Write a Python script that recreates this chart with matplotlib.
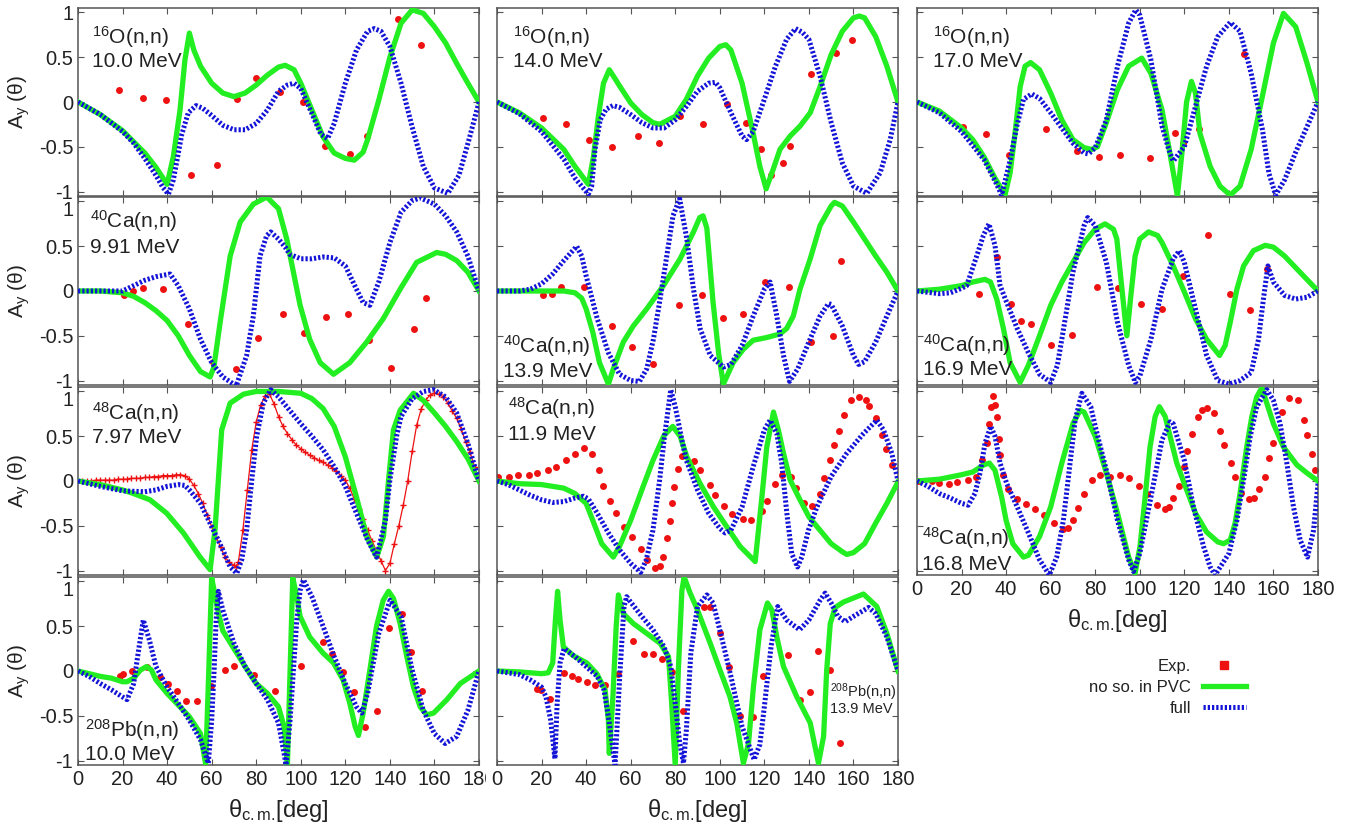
import matplotlib
matplotlib.use('Agg')
import matplotlib.pyplot as plt
from matplotlib.lines import Line2D
from matplotlib.transforms import Bbox, TransformedBbox, IdentityTransform

plt.rcParams['font.family'] = ['Liberation Sans', 'DejaVu Sans']
plt.rcParams['mathtext.fontset'] = 'custom'
plt.rcParams['mathtext.rm'] = 'Liberation Sans'
plt.rcParams['mathtext.it'] = 'Liberation Sans:italic'
plt.rcParams['mathtext.bf'] = 'Liberation Sans:bold'

# ---- datos: (theta_cm [deg], A_y) ----
o16_10_nso = [(0, 0), (10, -0.14), (20, -0.32), (30, -0.57), (35, -0.73), (40, -0.92), (42.8, -0.61), (45.8, -0.09),
              (48, 0.47), (50, 0.77), (52, 0.58), (55, 0.40), (60, 0.21), (65, 0.10), (70, 0.06), (75, 0.10), (80, 0.19),
              (85, 0.30), (90, 0.39), (93, 0.41), (97, 0.36), (100, 0.21), (105, -0.09), (110, -0.39), (115, -0.57),
              (120, -0.63), (124, -0.65), (128, -0.56), (130, -0.42), (135, 0.02), (140, 0.50), (145, 0.88), (150, 1.03),
              (155, 0.99), (160, 0.84), (165, 0.66), (170, 0.43), (175, 0.21), (180, 0)]
o16_10_full = [(0, 0), (10, -0.14), (20, -0.33), (25, -0.46), (30, -0.63), (35, -0.82), (38, -0.95), (40.6, -1.03),
               (42.8, -0.87), (46.6, -0.36), (49.5, -0.12), (53, -0.04), (56, -0.07), (60, -0.15), (65, -0.26), (70, -0.31),
               (75, -0.31), (80, -0.24), (85, -0.09), (90, 0.12), (94, 0.19), (97, 0.21), (100, 0.15), (105, -0.13),
               (109, -0.36), (112, -0.41), (115, -0.24), (120, 0.21), (125, 0.58), (130, 0.79), (133, 0.82), (136, 0.79),
               (140, 0.62), (145, 0.21), (150, -0.28), (155, -0.72), (160, -0.96), (166, -1.02), (171, -0.82),
               (175.5, -0.42), (180, 0)]
o16_10_exp = [(18.6, 0.13), (29.3, 0.04), (39.5, 0.02), (50.7, -0.81), (62.6, -0.70), (71.3, 0.03), (79.8, 0.27),
              (90.7, 0.11), (100.9, 0.0), (110.9, -0.49), (121.9, -0.58), (129.6, -0.38), (143.6, 0.93), (154.0, 0.64)]

o16_14_nso = [(0, 0), (10, -0.12), (20, -0.29), (30, -0.53), (35, -0.72), (41, -0.92), (43.3, -0.61), (45.5, -0.16),
              (47.8, 0.21), (50.4, 0.36), (53, 0.26), (55, 0.18), (60, -0.01), (65, -0.14), (70, -0.23), (73, -0.25),
              (80, -0.16), (85, 0.03), (90, 0.29), (95, 0.49), (100, 0.62), (102.7, 0.64), (105, 0.58), (110, 0.21),
              (115, -0.35), (118, -0.72), (120.8, -0.97), (124, -0.75), (127, -0.53), (131.6, -0.38), (136, -0.27),
              (140.6, -0.12), (145, 0.17), (150, 0.53), (155, 0.79), (160, 0.94), (162.6, 0.96), (165, 0.94), (170, 0.73),
              (175, 0.40), (180, 0)]
o16_14_full = [(0, 0), (10, -0.13), (20, -0.33), (30, -0.64), (35, -0.85), (41, -1.03), (42.5, -0.94), (44, -0.53),
               (46.3, -0.20), (49, -0.08), (52, -0.04), (55, -0.06), (60, -0.14), (65, -0.23), (70, -0.29), (75, -0.29),
               (80, -0.20), (85, -0.05), (90, 0.12), (95, 0.21), (98, 0.22), (100, 0.16), (105, -0.12), (110, -0.38),
               (112, -0.42), (115, -0.33), (120, 0.03), (125, 0.40), (130, 0.70), (134, 0.82), (137, 0.78), (140, 0.70),
               (145, 0.29), (150, -0.23), (155, -0.68), (160, -0.94), (166, -1.02), (172, -0.79), (176.5, -0.42), (180, 0)]
o16_14_exp = [(20.5, -0.18), (31, -0.25), (41.5, -0.43), (51.6, -0.50), (63.3, -0.38), (72.9, -0.46), (82.3, -0.16),
              (92.5, -0.25), (103.1, -0.02), (111.8, -0.24), (118.4, -0.53), (122.9, -0.81), (128.3, -0.68),
              (131.3, -0.49), (141, 0.31), (152.2, 0.55), (159.3, 0.69)]

o16_17_nso = [(0, 0), (10, -0.10), (20, -0.29), (25, -0.42), (30, -0.61), (35, -0.85), (39.5, -1.04), (41.8, -0.79),
              (44, -0.35), (46.3, 0.17), (48.5, 0.40), (51, 0.44), (55, 0.36), (60, 0.10), (65, -0.20), (70, -0.42),
              (75, -0.51), (78.4, -0.53), (81, -0.50), (85, -0.23), (90, 0.14), (95, 0.40), (100.9, 0.49), (105, 0.32),
              (110, -0.09), (113, -0.50), (116.9, -1.05), (119, -0.55), (121, 0.0), (123.2, 0.23), (125, 0.10),
              (127, -0.35), (131.6, -0.72), (136, -0.94), (140.6, -1.04), (145, -0.94), (150, -0.53), (155, 0.06),
              (160, 0.66), (164.5, 0.99), (170, 0.84), (175, 0.44), (180, 0)]
o16_17_full = [(0, 0), (10, -0.12), (20, -0.33), (30, -0.64), (35, -0.88), (38, -1.04), (41.8, -0.65), (44.8, -0.27),
               (47.8, 0.03), (51.5, 0.09), (55, 0.04), (60, -0.12), (65, -0.29), (70, -0.46), (75, -0.57), (77, -0.58),
               (80, -0.51), (85, -0.20), (90, 0.40), (95, 0.88), (98.2, 1.03), (100, 0.97), (105, 0.47), (110, -0.27),
               (113, -0.53), (115, -0.66), (120, -0.50), (125, -0.05), (130, 0.40), (135, 0.73), (140.6, 0.89),
               (145, 0.79), (150, 0.32), (155, -0.30), (158, -0.80), (161, -1.04), (165, -0.87), (170, -0.56),
               (175, -0.28), (180, 0)]
o16_17_exp = [(20.5, -0.28), (31, -0.36), (41.5, -0.59), (57.8, -0.30), (71.9, -0.55), (81.9, -0.61), (90.9, -0.59),
              (104.6, -0.63), (115.9, -0.35), (119.6, -0.46), (126.6, -0.30), (147, 0.54)]

ca40_991_nso = [(0, 0), (10, 0.0), (20, -0.02), (25, -0.06), (30, -0.13), (35, -0.22), (40, -0.33), (45, -0.50),
                (50, -0.72), (55, -0.90), (59.3, -0.96), (61, -0.85), (63.8, -0.35), (68.3, 0.39), (72.8, 0.77),
                (78.7, 0.97), (84.7, 1.05), (90, 0.92), (93.7, 0.58), (96.7, 0.21), (99.7, -0.16), (104, -0.54),
                (108.7, -0.80), (114.7, -0.93), (122, -0.80), (129.6, -0.57), (137, -0.31), (144.6, 0.02), (152, 0.32),
                (161, 0.43), (165, 0.41), (170, 0.34), (175, 0.21), (180, 0)]
ca40_991_full = [(0, 0), (10, 0.0), (20, 0.0), (25, 0.06), (30, 0.12), (35, 0.16), (41.3, 0.19), (45, 0.06), (50, -0.20),
                 (55, -0.54), (60, -0.80), (65, -0.96), (71, -1.06), (75.7, -0.72), (78.7, -0.28), (81.7, 0.39),
                 (84.7, 0.62), (86.5, 0.66), (90, 0.58), (93, 0.49), (95, 0.41), (100, 0.36), (105, 0.36), (110, 0.38),
                 (115, 0.37), (120, 0.28), (125, 0.02), (128, -0.13), (131, -0.16), (135, 0.10), (140, 0.54), (145, 0.88),
                 (150, 1.01), (153.6, 1.04), (160, 0.97), (165, 0.84), (170, 0.66), (175, 0.39), (180, 0)]
ca40_991_exp = [(20.7, -0.04), (24.9, 0.0), (29, 0.03), (38.3, 0.02), (49.6, -0.37), (60.5, -0.79), (70.8, -0.87),
                (81, -0.53), (91.9, -0.26), (101.5, -0.47), (111.4, -0.29), (121, -0.26), (130.7, -0.55),
                (140.6, -0.86), (151, -0.43), (156.3, -0.08)]

ca40_139_nso = [(0, 0), (20, 0.0), (30, 0.0), (35, -0.02), (38, -0.08), (40, -0.20), (43, -0.46), (46, -0.80),
                (50, -1.04), (52.2, -0.87), (56.7, -0.57), (61.2, -0.39), (67.2, -0.20), (74.7, 0.06), (82.2, 0.36),
                (88.2, 0.66), (91, 0.82), (92.5, 0.84), (94.2, 0.70), (97, -0.13), (99.5, -0.70), (101.6, -1.04),
                (106, -0.80), (110.6, -0.65), (115, -0.55), (121, -0.52), (127, -0.48), (130, -0.42), (133, -0.28),
                (136, 0.02), (140.6, 0.36), (145, 0.73), (150, 0.95), (151.5, 0.99), (155, 0.95), (160, 0.77),
                (165, 0.58), (170, 0.39), (175, 0.21), (180, 0)]
ca40_139_full = [(0, 0), (10, 0.0), (15, 0.02), (20, 0.08), (25, 0.19), (30, 0.34), (35.8, 0.50), (38, 0.39), (40, 0.17),
                 (45, -0.31), (50, -0.69), (55, -0.93), (60, -1.0), (64, -1.01), (67.2, -0.87), (70.2, -0.54),
                 (73.2, -0.09), (76.2, 0.39), (79, 0.84), (82, 1.03), (85.2, 0.58), (88.2, 0.02), (91.2, -0.42),
                 (95.7, -0.72), (101.6, -0.85), (105, -0.82), (110, -0.61), (115, -0.28), (120, 0.02), (122.6, 0.10),
                 (125.6, -0.28), (128.6, -0.72), (131.3, -1.01), (135, -0.87), (140, -0.57), (145, -0.28),
                 (148.8, -0.14), (150, -0.15), (155, -0.39), (160, -0.72), (162.3, -0.82), (165, -0.79), (170, -0.57),
                 (175, -0.28), (180, 0)]
ca40_139_exp = [(20.8, -0.05), (24.7, -0.03), (28.7, 0.05), (39.2, 0.04), (51.8, -0.39), (60.8, -0.62), (70.1, -0.82),
                (81.6, -0.16), (91.9, -0.04), (101.3, -0.30), (110.3, -0.26), (120.4, 0.10), (131.1, 0.04),
                (141, -0.57), (150.7, -0.50), (154.3, 0.34)]

ca40_169_nso = [(0, 0), (10, 0.02), (20, 0.06), (25, 0.10), (30.5, 0.13), (33, 0.10), (35.8, -0.09), (38.8, -0.42),
                (41.8, -0.80), (46.3, -1.02), (50, -0.83), (55, -0.50), (60, -0.16), (65, 0.10), (70, 0.32), (75, 0.54),
                (80, 0.69), (84.4, 0.75), (88.2, 0.69), (89.7, 0.58), (92, 0.02), (94.2, -0.50), (96, -0.05),
                (97.9, 0.39), (100, 0.58), (103.9, 0.66), (108, 0.62), (110, 0.54), (115, 0.28), (120, -0.01),
                (125, -0.31), (130, -0.54), (135.8, -0.72), (138.3, -0.61), (140.6, -0.35), (143.6, 0.02), (146.6, 0.28),
                (151, 0.45), (156.3, 0.51), (160, 0.49), (165, 0.39), (170, 0.26), (175, 0.13), (180, 0)]
ca40_169_full = [(0, 0), (10, -0.03), (15, -0.02), (20, 0.03), (22.3, 0.06), (26.8, 0.39), (29.8, 0.62), (32.3, 0.75),
                 (35, 0.51), (37.3, 0.06), (40.3, -0.13), (45, -0.42), (50, -0.69), (55, -0.93), (60, -1.02),
                 (63, -0.83), (65, -0.54), (70, 0.21), (75, 0.73), (76.6, 0.82), (80, 0.73), (85, 0.32), (90, -0.35),
                 (95, -0.83), (98, -1.02), (100, -0.95), (105, -0.54), (110, 0.02), (115, 0.36), (117.8, 0.45),
                 (120, 0.32), (125, -0.20), (130, -0.72), (135, -1.0), (140, -1.04), (145, -1.0), (150, -0.91),
                 (153.3, -0.54), (155.5, -0.09), (157.5, 0.28), (160, 0.10), (165, -0.05), (170, -0.09), (175, -0.07),
                 (180, 0)]
ca40_169_exp = [(27.8, -0.03), (35.8, 0.38), (42.2, -0.15), (46.7, -0.33), (51.2, -0.37), (60.2, -0.60), (69.8, -0.49),
                (81, 0.05), (90.4, 0.03), (100.4, -0.15), (110, -0.20), (119.6, 0.17), (130.4, 0.63), (140.6, -0.03),
                (149.6, -0.21), (157, 0.25)]

ca48_797_nso = [(0, 0), (10, -0.04), (20, -0.10), (24.9, -0.14), (32.3, -0.21), (39.8, -0.36), (47.3, -0.58),
                (54.8, -0.85), (59.3, -0.99), (61.5, -0.55), (63, 0.01), (64.5, 0.57), (68.3, 0.87), (74.3, 0.97),
                (80, 1.0), (90, 1.0), (100, 0.98), (105, 0.92), (110, 0.81), (115, 0.61), (120, 0.27), (125, -0.18),
                (129.6, -0.62), (134.1, -0.85), (137.1, -0.62), (139.4, 0.01), (141.6, 0.57), (144.6, 0.79),
                (150.6, 0.98), (155, 0.90), (160, 0.76), (165, 0.61), (170, 0.44), (175, 0.25), (180, 0)]
ca48_797_full = [(0, 0), (10, -0.06), (20, -0.11), (30, -0.12), (35, -0.10), (40, -0.06), (45, -0.04), (48, -0.05),
                 (50, -0.10), (55, -0.25), (60, -0.51), (65, -0.77), (68.3, -0.96), (71.3, -1.03), (73.5, -0.88),
                 (75.7, -0.55), (78, 0.01), (80.2, 0.50), (83.2, 0.87), (86.5, 1.02), (90, 0.94), (95, 0.79),
                 (100, 0.64), (105, 0.50), (110, 0.35), (115, 0.16), (120, -0.06), (125, -0.36), (130, -0.66),
                 (134, -0.85), (138, -0.44), (140, 0.01), (143, 0.50), (145, 0.72), (150, 0.92), (155, 1.0),
                 (159.6, 1.02), (165, 0.94), (170, 0.76), (175, 0.42), (180, 0)]
ca48_797_exp = [(2, 0.0), (4, 0.0), (6, 0.0), (8, 0.01), (10, 0.01), (12, 0.01), (14, 0.01), (16, 0.01), (18, 0.02),
                (20, 0.02), (22, 0.02), (24, 0.03), (26, 0.03), (28, 0.03), (30, 0.04), (32, 0.04), (34, 0.05),
                (36, 0.05), (38, 0.06), (40, 0.06), (42, 0.06), (44, 0.07), (46, 0.07), (48, 0.06), (50, 0.02),
                (52, -0.05), (54, -0.14), (56, -0.25), (58, -0.38), (60, -0.51), (62, -0.62), (64, -0.74), (66, -0.85),
                (68, -0.91), (70, -0.94), (71, -0.96), (72, -0.90), (74, -0.55), (76, -0.10), (78, 0.35), (80, 0.66),
                (82, 0.85), (84, 0.95), (86, 0.97), (88, 0.86), (90, 0.72), (92, 0.61), (94, 0.53), (96, 0.46),
                (98, 0.40), (100, 0.36), (102, 0.32), (104, 0.29), (106, 0.26), (108, 0.23), (110, 0.21), (112, 0.18),
                (114, 0.15), (116, 0.11), (118, 0.06), (120, 0.01), (122, -0.08), (124, -0.20), (126, -0.31),
                (128, -0.43), (130, -0.55), (132, -0.67), (134, -0.78), (136, -0.89), (138, -1.0), (140, -0.92),
                (142, -0.70), (144, -0.50), (146, -0.27), (148, 0.0), (150, 0.33), (152, 0.62), (154, 0.80),
                (156, 0.90), (158, 0.96), (160, 0.98), (162, 0.97), (164, 0.94), (166, 0.87), (168, 0.78), (170, 0.70),
                (172, 0.58), (174, 0.44), (176, 0.32), (178, 0.16)]

ca48_119_nso = [(0, 0), (10, -0.03), (20, -0.04), (30, -0.08), (35, -0.14), (40, -0.25), (43, -0.44), (47, -0.70),
                (52.2, -0.85), (55, -0.73), (60, -0.44), (65, -0.10), (70, 0.23), (75, 0.51), (78.9, 0.61), (82.2, 0.50),
                (85.2, 0.27), (91.2, -0.03), (97.2, -0.29), (103.1, -0.51), (109.1, -0.73), (115.9, -0.90),
                (118.9, -0.18), (121.1, 0.38), (124.1, 0.77), (126.3, 0.57), (128.6, 0.31), (131.6, 0.01), (136, -0.21),
                (140, -0.40), (145, -0.55), (150, -0.70), (155, -0.79), (157, -0.82), (160, -0.80), (165, -0.70),
                (170, -0.47), (175, -0.25), (180, -0.01)]
ca48_119_full = [(0, 0), (5, -0.04), (10, -0.10), (15, -0.16), (20, -0.21), (25, -0.24), (30, -0.23), (35, -0.19),
                 (38.8, -0.17), (41, -0.20), (45, -0.36), (50, -0.58), (55, -0.77), (60, -0.92), (64.5, -1.02),
                 (67, -0.88), (70, -0.55), (73, 0.01), (75, 0.46), (78, 1.02), (80, 0.83), (83, 0.46), (85, 0.23),
                 (90, -0.10), (95, -0.36), (100, -0.53), (102.4, -0.58), (105, -0.55), (110, -0.29), (115, 0.16),
                 (120, 0.57), (122.6, 0.68), (125.6, 0.53), (127.8, 0.20), (130.1, -0.36), (132.3, -0.81),
                 (134.9, -0.96), (136.8, -0.85), (139.8, -0.55), (143.6, -0.29), (150, 0.05), (157, 0.31),
                 (164.5, 0.53), (170.5, 0.68), (173.5, 0.57), (177.2, 0.31), (180, 0)]
ca48_119_exp = [(0.6, 0.04), (5.5, 0.05), (9.6, 0.07), (14.5, 0.07), (18.1, 0.09), (22.8, 0.12), (26.5, 0.16),
                (31, 0.23), (34.9, 0.30), (39.1, 0.37), (42.7, 0.30), (45.7, 0.12), (47.5, -0.06), (50.8, -0.22),
                (53.3, -0.36), (57, -0.51), (60.5, -0.62), (64.5, -0.76), (67.5, -0.88), (71, -0.97), (73.2, -0.95),
                (74.4, -0.85), (76.5, -0.64), (77.7, -0.45), (78.6, -0.25), (79.6, -0.07), (81.1, 0.13), (82.9, 0.28),
                (88.3, 0.22), (91.2, 0.12), (95.4, -0.04), (97.9, -0.16), (102.1, -0.28), (105.7, -0.37),
                (110.2, -0.43), (113.9, -0.44), (118.9, -0.34), (121.1, -0.22), (124.7, -0.03), (127.8, 0.07),
                (132, 0.05), (134.3, -0.08), (137.6, -0.25), (141.3, -0.28), (144.8, -0.14), (146.6, 0.03),
                (149.6, 0.23), (151.3, 0.40), (153.6, 0.56), (155.8, 0.74), (159, 0.90), (162.7, 0.94), (165.7, 0.90),
                (167.2, 0.84), (170.2, 0.70), (172.8, 0.51), (174.7, 0.36), (177.2, 0.18)]

ca48_168_nso = [(0, 0), (10, 0.02), (20, 0.07), (25, 0.10), (30, 0.18), (32.5, 0.20), (35, 0.12), (38, -0.18),
                (40, -0.44), (43, -0.70), (47.8, -0.85), (50, -0.83), (55, -0.62), (60, -0.29), (65, 0.20), (70, 0.64),
                (73.2, 0.79), (75, 0.77), (80, 0.50), (85, 0.09), (90, -0.36), (95, -0.85), (97.9, -1.03),
                (100.1, -0.73), (102.4, -0.18), (104.6, 0.38), (106.9, 0.72), (108.8, 0.83), (111.4, 0.72),
                (113.6, 0.50), (116.6, 0.20), (120, -0.03), (125, -0.36), (130, -0.57), (135, -0.68), (137.6, -0.70),
                (140.6, -0.66), (142.8, -0.47), (145, -0.14), (148, 0.38), (150.3, 0.72), (152.5, 0.94), (154.8, 1.04),
                (157, 0.87), (160, 0.64), (164.5, 0.38), (170.5, 0.18), (175, 0.09), (180, 0)]
ca48_168_full = [(0, 0), (5, -0.06), (10, -0.14), (15, -0.19), (20, -0.25), (23, -0.27), (26, -0.14), (28.3, 0.09),
                 (30.5, 0.42), (33.1, 0.61), (35, 0.50), (37.3, 0.20), (40.3, -0.03), (45, -0.29), (50, -0.58),
                 (55, -0.88), (59.4, -1.05), (62.7, -0.85), (65.7, -0.44), (68.7, 0.20), (71, 0.68), (74, 0.98),
                 (78, 0.83), (80, 0.61), (85, 0.12), (90, -0.44), (95, -0.88), (97.2, -1.01), (100, -0.81), (105, -0.18),
                 (110, 0.46), (113.6, 0.66), (115, 0.64), (120, 0.23), (124.1, -0.29), (128.6, -0.73), (131.6, -0.96),
                 (133.8, -1.05), (140, -0.81), (143.6, -0.44), (146.6, 0.01), (149.6, 0.50), (152.5, 0.83), (157, 1.02),
                 (160, 0.90), (163, 0.64), (166, 0.20), (169, -0.29), (172, -0.66), (175.3, -0.85), (178, -0.55),
                 (180, -0.03)]
ca48_168_exp = [(0.6, 0.0), (6.6, 0.0), (10, -0.02), (14.5, -0.03), (18.1, -0.01), (22.8, 0.01), (26.5, 0.04),
                (29.2, 0.23), (31.6, 0.42), (32.5, 0.64), (33.1, 0.83), (34.3, 0.95), (35, 0.85), (35.8, 0.71),
                (36.7, 0.47), (37.3, 0.29), (38.8, 0.07), (40.7, -0.09), (44.8, -0.20), (48.9, -0.26), (53, -0.31),
                (57, -0.38), (61.5, -0.47), (65.7, -0.54), (68, -0.53), (69.9, -0.44), (72.2, -0.30), (75, -0.14),
                (78.4, 0.01), (82.2, 0.07), (86.7, 0.05), (91.2, 0.07), (95.1, 0.03), (99.6, -0.06), (103.1, -0.14),
                (107.6, -0.27), (111.1, -0.31), (113.3, -0.29), (115.1, -0.19), (117.4, -0.06), (119.9, 0.16),
                (121.1, 0.33), (123.5, 0.53), (126.3, 0.72), (128.1, 0.79), (130.1, 0.81), (133.1, 0.76),
                (136.1, 0.56), (137.6, 0.40), (140.9, 0.20), (142.8, 0.05), (145.4, -0.13), (149.2, -0.20),
                (151.3, -0.19), (153.7, -0.09), (156, 0.05), (158.2, 0.26), (159.6, 0.42), (163.8, 0.77),
                (167.1, 0.93), (170.8, 0.90), (173.5, 0.68), (175, 0.51), (177.2, 0.30), (178.7, 0.12)]

pb208_10_nso = [(0, 0), (5, -0.03), (10, -0.06), (15, -0.08), (20, -0.12), (22, -0.12), (25, -0.08), (28, 0.01),
                (30.8, 0.05), (33, 0.01), (35, -0.10), (40, -0.25), (45, -0.38), (50, -0.51), (55, -0.70),
                (57.3, -1.04), (58.7, 0.0), (60, 1.04), (61.5, 0.85), (63, 0.65), (65, 0.45), (70, 0.25), (75, 0.05),
                (80, -0.14), (85, -0.25), (90, -0.40), (92.5, -0.62), (94, -1.05), (95.2, 0.0), (96.4, 1.04),
                (98.2, 0.83), (99.7, 0.61), (104, 0.38), (110, 0.20), (114.7, 0.09), (119, -0.10), (122, -0.36),
                (124.4, -0.62), (125.9, -0.72), (128, -0.47), (131, 0.01), (134, 0.50), (137, 0.79), (139.4, 0.89),
                (141.6, 0.81), (144.6, 0.53), (147.6, 0.16), (150.6, -0.18), (153.6, -0.40), (156.6, -0.49),
                (159.6, -0.47), (165.6, -0.32), (171.6, -0.14), (180, 0)]
pb208_10_full = [(0, 0), (5, -0.06), (10, -0.14), (15, -0.21), (20, -0.29), (22, -0.32), (25, -0.14), (27, 0.20),
                 (29.3, 0.57), (32, 0.35), (35, 0.05), (40, -0.18), (45, -0.36), (50, -0.55), (55, -0.77),
                 (58.5, -1.03), (60, -0.55), (61.1, 0.01), (62, 0.57), (63, 0.89), (65, 0.68), (70, 0.31), (75, 0.05),
                 (80, -0.14), (85, -0.32), (90, -0.58), (92.2, -0.88), (93.4, -1.05), (95.2, -0.55), (96.7, 0.01),
                 (98.2, 0.57), (99.7, 0.90), (101.2, 1.02), (105, 0.83), (110, 0.50), (115, 0.16), (120, -0.14),
                 (125, -0.40), (127.4, -0.47), (130, -0.25), (135, 0.42), (140.1, 0.79), (145, 0.61), (150, 0.01),
                 (155, -0.44), (160, -0.70), (164.8, -0.81), (170, -0.73), (175, -0.44), (180, 0)]
pb208_10_exp = [(18.9, -0.06), (20, -0.03), (24.1, 0.0), (30.8, 0.05), (37, -0.07), (40.6, -0.15), (44.6, -0.22),
                (48.5, -0.33), (53.3, -0.33), (59.6, -0.17), (66, 0.01), (70.2, 0.06), (79.2, -0.04), (88.5, -0.22),
                (100, 0.06), (109.9, 0.32), (114.2, 0.19), (118.9, -0.01), (123.7, -0.23), (128.9, -0.63),
                (134.1, -0.45), (139.8, 0.48), (145.4, 0.64), (149.6, 0.21), (154.3, -0.22)]

pb208_139_nso = [(0, 0), (10, -0.01), (15, -0.02), (20, -0.03), (23, -0.02), (25, 0.09), (26.3, 0.60), (27.2, 0.89),
                 (28.3, 0.57), (29.8, 0.27), (34.3, 0.17), (40.3, 0.09), (44.8, -0.03), (48.5, -0.21), (50, -0.55),
                 (50.4, -0.92), (52, -0.30), (53.5, 0.50), (54.5, 0.85), (56.7, 0.64), (61.2, 0.53), (67.2, 0.42),
                 (73.2, 0.31), (77, 0.16), (78.4, -0.36), (80, -1.05), (81.4, 0.01), (83, 0.90), (84, 1.05),
                 (86.7, 0.87), (89.7, 0.70), (95.7, 0.31), (100.1, 0.01), (104.6, -0.29), (107.6, -0.58),
                 (110.6, -1.03), (112.9, -0.81), (115.1, -0.18), (118, 0.46), (121.4, 0.76), (123.4, 0.68),
                 (125.6, 0.38), (128.6, 0.05), (134.6, -0.29), (140.6, -0.58), (142.8, -0.85), (144.3, -1.03),
                 (146.6, -0.73), (148, 0.01), (149.6, 0.53), (151.8, 0.71), (155.5, 0.77), (164.5, 0.86),
                 (170.5, 0.72), (175, 0.42), (180, 0)]
pb208_139_full = [(0, 0), (10, -0.04), (15, -0.10), (20, -0.18), (22, -0.29), (24.1, -0.55), (26, -0.98), (27, -0.36),
                  (28.3, 0.09), (30.1, 0.25), (35, 0.16), (40, 0.05), (45, -0.06), (48, -0.21), (50, -0.51),
                  (53, -1.05), (55, -0.10), (57, 0.72), (58.2, 0.83), (60, 0.77), (65, 0.61), (70, 0.46), (75, 0.27),
                  (78, 0.05), (80, -0.36), (82, -0.80), (83.7, -1.03), (85, -0.66), (87, 0.20), (90, 0.72),
                  (94.2, 0.85), (97, 0.76), (100, 0.46), (105, -0.06), (110, -0.62), (115.4, -0.99), (118, -0.82),
                  (120, -0.40), (123, 0.27), (126, 0.72), (130, 0.57), (135.8, 0.46), (140, 0.57), (145, 0.79),
                  (147.3, 0.87), (150, 0.76), (153, 0.61), (156.3, 0.55), (160, 0.61), (166.8, 0.71), (170, 0.64),
                  (175, 0.38), (180, 0)]
pb208_139_exp = [(18.1, -0.20), (19.8, -0.21), (23.9, -0.31), (30.2, -0.02), (33.5, -0.06), (36.3, -0.09),
                 (40.3, -0.12), (44, -0.16), (48.5, -0.16), (54.5, -0.03), (61.1, 0.34), (65.9, 0.19), (69.9, 0.19),
                 (73.9, 0.13), (78.4, -0.01), (83.7, -0.45), (93, 0.71), (95.7, 0.72), (99.9, 0.42), (104.3, 0.05),
                 (109.1, -0.50), (114.8, -0.51), (119.6, -0.06), (130.4, 0.18), (135.8, -0.32), (140.3, -0.23),
                 (144.3, 0.22), (149.3, 0.01), (154, -0.80)]

nucleus_labels = ['$^{16}$O(n,n)', '$^{16}$O(n,n)', '$^{16}$O(n,n)',
                  '$^{40}$Ca(n,n)', '$^{40}$Ca(n,n)', '$^{40}$Ca(n,n)',
                  '$^{48}$Ca(n,n)', '$^{48}$Ca(n,n)', '$^{48}$Ca(n,n)',
                  '$^{208}$Pb(n,n)', '$^{208}$Pb(n,n)']
energy_labels = ['10.0 MeV', '14.0 MeV', '17.0 MeV',
                 '9.91 MeV', '13.9 MeV', '16.9 MeV',
                 '7.97 MeV', '11.9 MeV', '16.8 MeV',
                 '10.0 MeV', '13.9 MeV']
xtick_vals = [0, 20, 40, 60, 80, 100, 120, 140, 160, 180]
ytick_vals = [-1, -0.5, 0, 0.5, 1]
ytick_labels = ['-1', '-0.5', '0', '0.5', '1']
legend_labels = ['Exp.', 'no so. in PVC', 'full']

curves = [
    (o16_10_nso, o16_10_full, o16_10_exp), (o16_14_nso, o16_14_full, o16_14_exp),
    (o16_17_nso, o16_17_full, o16_17_exp),
    (ca40_991_nso, ca40_991_full, ca40_991_exp), (ca40_139_nso, ca40_139_full, ca40_139_exp),
    (ca40_169_nso, ca40_169_full, ca40_169_exp),
    (ca48_797_nso, ca48_797_full, ca48_797_exp), (ca48_119_nso, ca48_119_full, ca48_119_exp),
    (ca48_168_nso, ca48_168_full, ca48_168_exp),
    (pb208_10_nso, pb208_10_full, pb208_10_exp), (pb208_139_nso, pb208_139_full, pb208_139_exp),
]

# posicion de las etiquetas (x, linea 1, linea 2, tamano) en fraccion de ejes
label_pos = [(0.035, 0.812, 0.688, 15), (0.040, 0.812, 0.688, 15), (0.040, 0.812, 0.688, 15),
             (0.030, 0.835, 0.700, 15), (0.015, 0.170, 0.043, 15), (0.015, 0.175, 0.053, 15),
             (0.035, 0.824, 0.700, 15), (0.028, 0.850, 0.720, 15), (0.012, 0.160, 0.027, 15),
             (0.017, 0.150, 0.027, 15), (0.830, 0.362, 0.277, 10.5)]

GREEN = '#22ee22'
BLUE = '#1414d8'
RED = '#ee1111'
TXT = '#222222'
FRAME = '#555555'

W, H = 1364, 824
fig = plt.figure(figsize=(W / 100, H / 100), dpi=100)

col_left = [78, 497, 917]
row_top = [8, 197, 387, 577]
aw, ah = 401, 188

for i, (nso, full, exp) in enumerate(curves):
    r, c = divmod(i, 3)
    ax = fig.add_axes([col_left[c] / W, 1 - (row_top[r] + ah) / H, aw / W, ah / H])

    ex_t, ex_y = zip(*exp)
    if i == 6:
        ax.plot(ex_t, ex_y, color=RED, lw=0.9, marker='+', ms=5, mew=1.0, zorder=2)
    else:
        ax.plot(ex_t, ex_y, 'o', color=RED, ms=5, mew=0, zorder=2)
    g_t, g_y = zip(*nso)
    ax.plot(g_t, g_y, color=GREEN, lw=3.8, solid_joinstyle='round', zorder=3)
    b_t, b_y = zip(*full)
    ax.plot(b_t, b_y, color=BLUE, lw=3.6, linestyle=(0, (0.45, 0.4)), zorder=4)

    ax.set_xlim(0, 180)
    ax.set_ylim(-1.05, 1.05)
    ax.set_xticks(xtick_vals)
    ax.set_yticks(ytick_vals)
    ax.set_yticklabels(ytick_labels)
    ax.tick_params(direction='in', top=True, right=True, length=4, width=0.8, color=FRAME,
                   labelsize=14.5, labelcolor=TXT)
    for sp in ax.spines.values():
        sp.set_color(FRAME)
        sp.set_linewidth(1.1)

    bottom = (r == 3) or (i == 8)
    ax.tick_params(labelbottom=bottom, labelleft=(c == 0))
    if bottom:
        ax.set_xlabel('θ$_{\\rm c{.}m{.}}\\!$[deg]', fontsize=17, color=TXT)
        ax.xaxis.set_label_coords(0.5, -0.17)
    if c == 0:
        ax.set_ylabel('A$_{\\rm y}$ (θ)', fontsize=15, color=TXT)
        ax.yaxis.set_label_coords(-0.115, 0.5)
        if r > 0:
            # la etiqueta "1" de las filas inferiores va un poco mas abajo
            ax.yaxis.get_major_ticks()[-1].label1.set_verticalalignment('top')
    if i == 9:
        # el "180" del primer panel queda tapado por el panel vecino, como en el original
        lab = ax.xaxis.get_major_ticks()[-1].label1
        lab.set_clip_box(TransformedBbox(Bbox([[0, 0], [486, H]]), IdentityTransform()))
        lab.set_clip_on(True)

    lx, ly1, ly2, fs = label_pos[i]
    ax.text(lx, ly1, nucleus_labels[i], transform=ax.transAxes, fontsize=fs, color=TXT, va='baseline', zorder=5)
    ax.text(lx, ly2, energy_labels[i], transform=ax.transAxes, fontsize=fs, color=TXT, va='baseline', zorder=5)

# leyenda abajo a la derecha
handles = [Line2D([], [], ls='none', marker='s', color=RED, ms=6),
           Line2D([], [], color=GREEN, lw=3.8),
           Line2D([], [], color=BLUE, lw=3.6, linestyle=(0, (0.45, 0.4)))]
fig.legend(handles, legend_labels, loc='upper right', bbox_to_anchor=(1246 / W, 1 - 659 / H),
           frameon=False, markerfirst=False, fontsize=12, handlelength=2.6, handletextpad=0.7,
           labelspacing=0.35, borderpad=0, borderaxespad=0, labelcolor=TXT)

fig.savefig('out.png', dpi=100)
